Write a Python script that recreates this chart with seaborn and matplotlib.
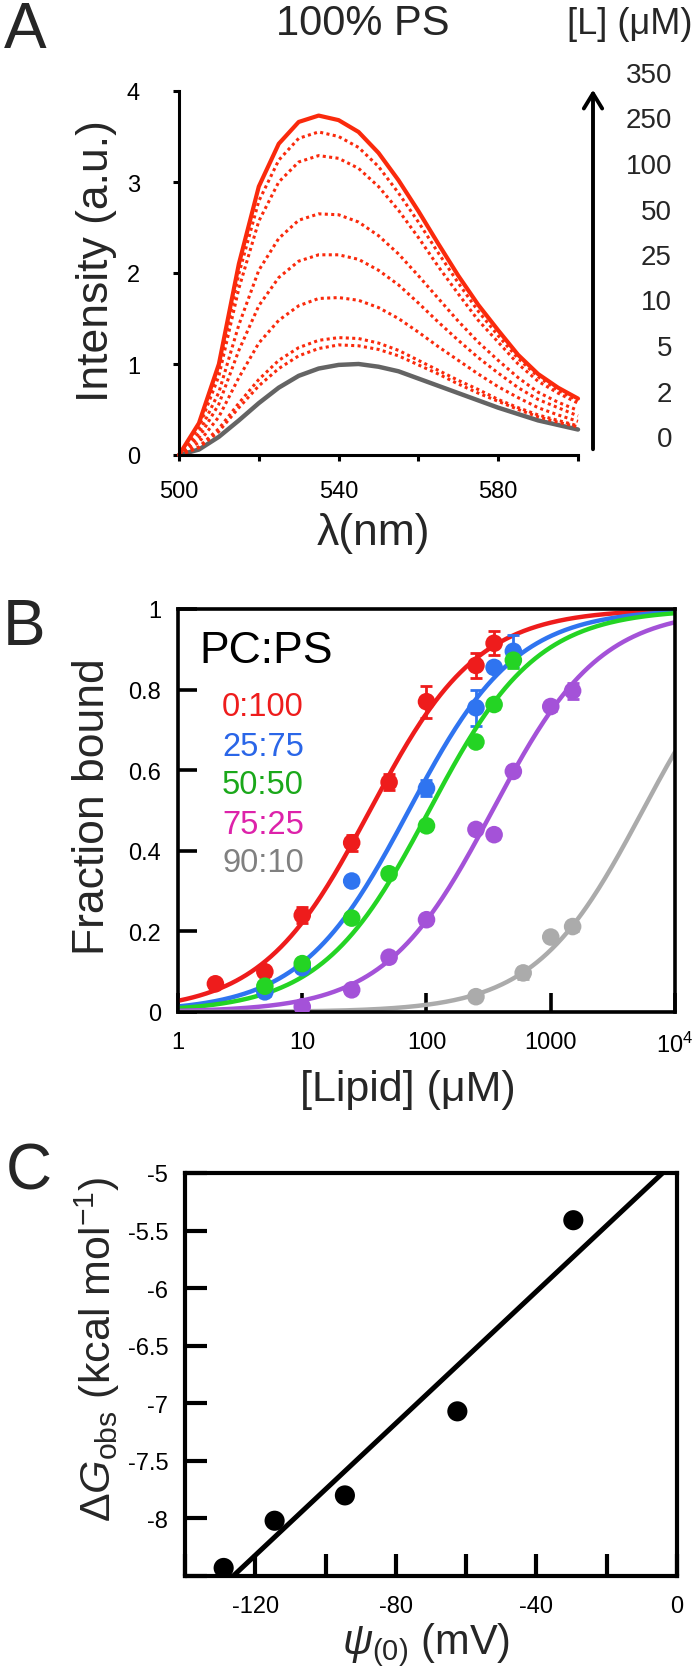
import numpy as np
import pandas as pd
import seaborn as sns
import matplotlib.pyplot as plt
from matplotlib.ticker import NullLocator

# ---------------- data ----------------
# panel A: emission spectra, 100% PS, read every 5 nm
wavelength = [500, 505, 510, 515, 520, 525, 530, 535, 540, 545, 550,
              555, 560, 565, 570, 575, 580, 585, 590, 595, 600]
int_0 = [0, .06, .20, .38, .57, .74, .87, .95, .99, 1.0, .97,
         .92, .84, .76, .68, .60, .52, .45, .38, .33, .28]
int_2 = [0, .08, .26, .52, .76, .95, 1.09, 1.17, 1.21, 1.20, 1.16,
         1.09, .99, .89, .78, .68, .59, .50, .42, .36, .31]
int_5 = [0, .09, .29, .57, .83, 1.04, 1.18, 1.26, 1.29, 1.28, 1.23,
         1.15, 1.04, .93, .82, .72, .61, .52, .44, .38, .32]
int_10 = [0, .14, .42, .85, 1.23, 1.48, 1.64, 1.72, 1.73, 1.70, 1.62,
          1.50, 1.35, 1.19, 1.04, .89, .75, .63, .52, .44, .37]
int_25 = [0, .19, .56, 1.15, 1.64, 1.95, 2.13, 2.20, 2.20, 2.15, 2.03,
          1.87, 1.67, 1.46, 1.26, 1.07, .90, .74, .61, .52, .43]
int_50 = [0, .24, .69, 1.43, 2.03, 2.38, 2.58, 2.65, 2.64, 2.56, 2.41,
          2.21, 1.97, 1.72, 1.47, 1.24, 1.04, .85, .69, .58, .49]
int_100 = [0, .30, .87, 1.83, 2.57, 3.00, 3.22, 3.29, 3.26, 3.15, 2.95,
           2.69, 2.39, 2.07, 1.77, 1.48, 1.24, 1.00, .81, .68, .57]
int_250 = [0, .33, .95, 1.99, 2.79, 3.24, 3.48, 3.55, 3.50, 3.38, 3.17,
           2.88, 2.56, 2.22, 1.89, 1.58, 1.31, 1.06, .86, .71, .60]
int_350 = [0, .35, 1.0, 2.10, 2.95, 3.42, 3.66, 3.73, 3.68, 3.55, 3.32,
           3.02, 2.68, 2.32, 1.97, 1.65, 1.37, 1.10, .89, .74, .62]
lipid_conc_labels = ['0', '2', '5', '10', '25', '50', '100', '250', '350']

# panel B: fraction bound vs [lipid]
comp_labels = ['0:100', '25:75', '50:50', '75:25', '90:10']
lipid_0_100 = [2, 5, 10, 25, 50, 100, 250, 350]
fb_0_100 = [0.07, 0.10, 0.24, 0.42, 0.57, 0.77, 0.86, 0.915]
err_0_100 = [0.01, 0.01, 0.02, 0.02, 0.02, 0.04, 0.03, 0.03]
lipid_25_75 = [5, 10, 25, 100, 250, 350, 500]
fb_25_75 = [0.05, 0.11, 0.325, 0.555, 0.755, 0.855, 0.895]
err_25_75 = [0.01, 0.01, 0.01, 0.02, 0.045, 0.01, 0.04]
lipid_50_50 = [5, 10, 25, 50, 100, 250, 350, 500]
fb_50_50 = [0.064, 0.12, 0.233, 0.343, 0.462, 0.67, 0.763, 0.873]
err_50_50 = [0.01, 0.01, 0.01, 0.01, 0.01, 0.01, 0.01, 0.02]
lipid_75_25 = [10, 25, 50, 100, 250, 350, 500, 1000, 1500]
fb_75_25 = [0.013, 0.055, 0.136, 0.229, 0.453, 0.44, 0.597, 0.758, 0.797]
err_75_25 = [0.005, 0.005, 0.01, 0.01, 0.01, 0.01, 0.01, 0.01, 0.02]
lipid_90_10 = [250, 600, 1000, 1500]
fb_90_10 = [0.038, 0.097, 0.186, 0.212]
err_90_10 = [0.005, 0.015, 0.01, 0.01]
# lipid concentration at half binding of each fitted curve
k_half = [35, 72, 105, 340, 5500]

# panel C: binding energy vs surface potential
psi0 = [-129, -114.5, -94.5, -62.5, -29.5]
dG_obs = [-8.43, -8.02, -7.80, -7.07, -5.41]

# ---------------- style ----------------
sns.set_theme(style='ticks')
plt.rcParams['font.family'] = ['Liberation Sans', 'DejaVu Sans']
plt.rcParams['mathtext.fontset'] = 'custom'
plt.rcParams['mathtext.rm'] = 'Liberation Sans'
plt.rcParams['mathtext.it'] = 'Liberation Sans:italic'
plt.rcParams['axes.unicode_minus'] = False

W, H = 700, 1674
fig = plt.figure(figsize=(W / 100, H / 100), dpi=100)


def box(l, t, r, b):
    return [l / W, 1 - b / H, (r - l) / W, (b - t) / H]


def ftext(x, y, s, **kw):
    fig.text(x / W, 1 - y / H, s, ha='center', va='center', **kw)


red_a = '#fa2a0c'
gray_a = '#646464'

# ---------------- panel A ----------------
axA = fig.add_axes(box(179, 92, 578, 456))
sns.lineplot(x=wavelength, y=int_0, color=gray_a, lw=3.2, ax=axA, clip_on=False,
             solid_joinstyle='round')
for vals in [int_2, int_5, int_10, int_25, int_50, int_100, int_250]:
    sns.lineplot(x=wavelength, y=vals, color=red_a, lw=2.2,
                 linestyle=(0, (1, 1.1)), ax=axA, clip_on=False)
sns.lineplot(x=wavelength, y=int_350, color=red_a, lw=3, ax=axA, clip_on=False,
             solid_joinstyle='round')

axA.set_xlim(500, 600)
axA.set_ylim(0, 4)
sns.despine(ax=axA)
for s in ['left', 'bottom']:
    axA.spines[s].set_linewidth(2.2)
    axA.spines[s].set_color('black')
axA.set_xticks([500, 520, 540, 560, 580, 600])
axA.set_xticklabels(['500', '', '540', '', '580', ''])
axA.set_yticks([0, 1, 2, 3, 4])
axA.set_yticklabels(['0', '1', '2', '3', '4'])
axA.tick_params(axis='both', direction='out', length=4, width=2.2,
                labelsize=17, colors='black')
axA.tick_params(axis='y', pad=24)
axA.tick_params(axis='x', pad=14)
axA.set_xlabel('λ(nm)', fontsize=32)
axA.xaxis.set_label_coords((373 - 179) / 399, -(533 - 456) / 364)
axA.xaxis.label.set_va('center')
axA.set_ylabel('Intensity (a.u.)', fontsize=32)
axA.yaxis.set_label_coords((96 - 179) / 399, (456 - 261) / 364)
axA.yaxis.label.set_va('center')

axA.annotate('', xy=((593 - 179) / 399, (456 - 88) / 364),
             xytext=((593 - 179) / 399, (456 - 453) / 364),
             xycoords='axes fraction', annotation_clip=False,
             arrowprops=dict(arrowstyle='->,head_length=0.9,head_width=0.55',
                             lw=2.8, color='black'))
for i, lab in enumerate(lipid_conc_labels):
    ypx = 440 - 45.5 * i
    fig.text(672 / W, 1 - ypx / H, lab, ha='right', va='center', fontsize=20)

ftext(363, 24, '100% PS', fontsize=30)
ftext(630, 24, '[L] (μM)', fontsize=26)
ftext(25, 31, 'A', fontsize=46)

# ---------------- panel B ----------------
colors_b = ['#ee1c1c', '#2f74f0', '#24d424', '#a452d8', '#ababab']
text_colors_b = ['#ee1c1c', '#2a66e8', '#1aa81a', '#dd22aa', '#808080']
axB = fig.add_axes(box(178, 610, 675, 1013))
axB.set_xscale('log')
axB.set_xlim(1, 1e4)
axB.set_ylim(0, 1)

xfit = np.logspace(0, 4, 300)
series_b = [(lipid_0_100, fb_0_100, err_0_100),
            (lipid_25_75, fb_25_75, err_25_75),
            (lipid_50_50, fb_50_50, err_50_50),
            (lipid_75_25, fb_75_25, err_75_25),
            (lipid_90_10, fb_90_10, err_90_10)]
for (lx, fy, er), kh, c in zip(series_b, k_half, colors_b):
    sns.lineplot(x=xfit, y=xfit / (xfit + kh), color=c, lw=3.2, ax=axB)
    axB.errorbar(lx, fy, yerr=er, fmt='none', ecolor=c, elinewidth=2,
                 capsize=4, capthick=2)
    sns.scatterplot(x=lx, y=fy, color=c, s=160, edgecolor='none', ax=axB,
                    zorder=3)

axB.set_xticks([1, 10, 100, 1000, 10000])
axB.set_xticklabels(['1', '10', '100', '1000', '10$^4$'])
axB.xaxis.set_minor_locator(NullLocator())
axB.set_yticks([0, 0.2, 0.4, 0.6, 0.8, 1])
axB.set_yticklabels(['0', '0.2', '0.4', '0.6', '0.8', '1'])
for s in axB.spines.values():
    s.set_linewidth(2.6)
    s.set_color('black')
axB.tick_params(axis='both', direction='in', length=14, width=2.6,
                labelsize=17, colors='black')
axB.tick_params(axis='y', pad=12)
axB.tick_params(axis='x', pad=14)
axB.set_xlabel('[Lipid] (μM)', fontsize=31)
axB.xaxis.set_label_coords((408 - 178) / 497, -(1090 - 1013) / 403)
axB.xaxis.label.set_va('center')
axB.set_ylabel('Fraction bound', fontsize=32)
axB.yaxis.set_label_coords((92 - 178) / 497, (1013 - 807) / 403)
axB.yaxis.label.set_va('center')

axB.text(0.044, 0.897, 'PC:PS', transform=axB.transAxes, fontsize=32,
         ha='left', va='center', color='black')
for i, (lab, c) in enumerate(zip(comp_labels, text_colors_b)):
    ypx = 708 + 39 * i
    axB.text((222 - 178) / 497, (1013 - ypx) / 403, lab, transform=axB.transAxes,
             fontsize=23.5, ha='left', va='center', color=c)
ftext(24, 628, 'B', fontsize=46)

# ---------------- panel C ----------------
axC = fig.add_axes(box(185, 1174, 677, 1577))
axC.set_xlim(-140, 0)
axC.set_ylim(-8.5, -5)
sns.regplot(x=psi0, y=dG_obs, ci=None, truncate=False, ax=axC,
            scatter_kws=dict(s=210, color='black', alpha=1, edgecolor='none',
                             zorder=3),
            line_kws=dict(lw=3.6, color='black'))
axC.set_xlim(-140, 0)
axC.set_ylim(-8.5, -5)
axC.set_xticks([-140, -120, -100, -80, -60, -40, -20, 0])
axC.set_xticklabels(['', '-120', '', '-80', '', '-40', '', '0'])
axC.set_yticks([-8.5, -8, -7.5, -7, -6.5, -6, -5.5, -5])
axC.set_yticklabels(['', '-8', '-7.5', '-7', '-6.5', '-6', '-5.5', '-5'])
for s in axC.spines.values():
    s.set_linewidth(3)
    s.set_color('black')
axC.tick_params(axis='both', direction='in', length=16, width=3,
                labelsize=17, colors='black')
axC.tick_params(axis='y', pad=12)
axC.tick_params(axis='x', pad=14)
axC.set_xlabel(r'$\mathit{ψ}_{\mathrm{(0)}}$ (mV)', fontsize=30)
axC.xaxis.set_label_coords((426 - 185) / 492, -(1645 - 1577) / 403)
axC.xaxis.label.set_va('center')
axC.set_ylabel(r'$\mathit{ΔG}_{\mathrm{obs}}$ (kcal mol$^{\mathrm{-1}}$)', fontsize=31)
axC.yaxis.set_label_coords((97 - 185) / 492, (1577 - 1349) / 403)
axC.yaxis.label.set_va('center')
ftext(29, 1173, 'C', fontsize=46)

fig.savefig('out.png', dpi=100)
